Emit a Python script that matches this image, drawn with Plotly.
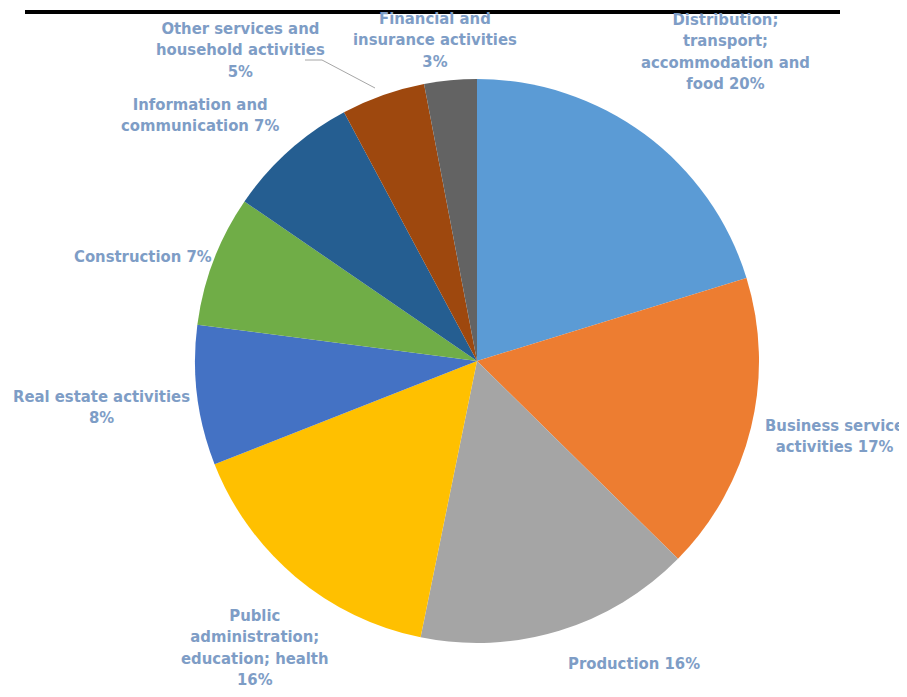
import plotly.graph_objects as go

sectors = [
    "Distribution; transport; accommodation and food",
    "Business service activities",
    "Production",
    "Public administration; education; health",
    "Real estate activities",
    "Construction",
    "Information and communication",
    "Other services and household activities",
    "Financial and insurance activities",
]
shares = [20.2, 17.1, 15.8, 15.8, 8.0, 7.5, 7.6, 4.8, 3.0]
colors = ["#5B9BD5", "#ED7D31", "#A5A5A5", "#FFC000", "#4472C4",
          "#70AD47", "#255E91", "#9E480E", "#636363"]
label_texts = [
    "Distribution;<br>transport;<br>accommodation and<br>food 20%",
    "Business service<br>activities 17%",
    "Production 16%",
    "Public<br>administration;<br>education; health<br>16%",
    "Real estate activities<br>8%",
    "Construction 7%",
    "Information and<br>communication 7%",
    "Other services and<br>household activities<br>5%",
    "Financial and<br>insurance activities<br>3%",
]
# label anchor positions (screen pixels in the reference)
label_px = [
    (725, 52), (834, 436), (634, 663), (255, 647), (101, 407),
    (143, 257), (200, 115), (240, 50), (435, 40),
]

W, H = 907, 697
OFF = 8  # page body margin


def fx(px):
    return (px - OFF) / W


def fy(py):
    return 1 - (py - OFF) / H


fig = go.Figure()
fig.add_trace(go.Pie(
    labels=sectors, values=shares, sort=False, direction="clockwise",
    rotation=0, marker=dict(colors=colors, line=dict(width=0)),
    textinfo="none", hoverinfo="label+percent", showlegend=False,
    domain=dict(x=[fx(195), fx(759)], y=[fy(643), fy(79)]),
))

for txt, (px, py) in zip(label_texts, label_px):
    fig.add_annotation(
        x=fx(px), y=fy(py), xref="paper", yref="paper",
        text=txt, showarrow=False, xanchor="center", yanchor="middle",
        align="center",
        font=dict(family="Liberation Sans Narrow, DejaVu Sans Condensed, Arial Narrow, sans-serif",
                  size=16.5, color="#7E9DC6", weight="bold"),
    )

# leader line for "Other services" label
fig.add_shape(type="line", xref="paper", yref="paper",
              x0=fx(305), y0=fy(60), x1=fx(322), y1=fy(60),
              line=dict(color="#A6A6A6", width=1))
fig.add_shape(type="line", xref="paper", yref="paper",
              x0=fx(322), y0=fy(60), x1=fx(375), y1=fy(88),
              line=dict(color="#A6A6A6", width=1))
# title underline (title text is cropped in the reference)
fig.add_shape(type="line", xref="paper", yref="paper",
              x0=fx(25), y0=fy(12), x1=fx(840), y1=fy(12),
              line=dict(color="#000000", width=4))

fig.update_layout(
    width=W, height=H, margin=dict(l=0, r=0, t=0, b=0),
    paper_bgcolor="white", plot_bgcolor="white",
)
fig.write_html("out.html")
